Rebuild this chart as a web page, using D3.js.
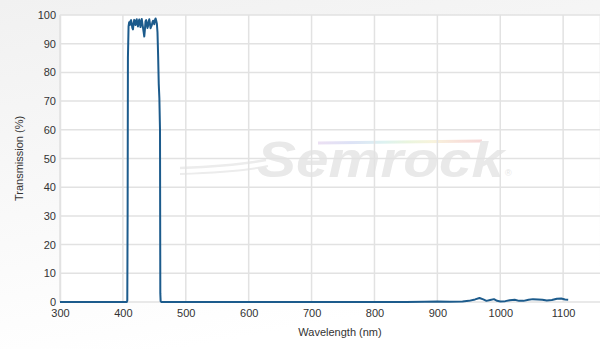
<!DOCTYPE html>
<html><head><meta charset="utf-8">
<script src="https://cdn.jsdelivr.net/npm/d3@7"></script>
<style>html,body{margin:0;padding:0;background:#fff;}svg{display:block;font-family:"Liberation Sans",Arial,sans-serif;}</style>
</head><body>
<div id="chart"></div>
<script>
const xTicks = [300,400,500,600,700,800,900,1000,1100];
const yTicks = [0,10,20,30,40,50,60,70,80,90,100];
const xTitle = "Wavelength (nm)";
const yTitle = "Transmission (%)";
const watermark = "Semrock";

// Spectrum: wavelength (nm) and transmission (%)
const wavelengths = [300,350,400,405,406,407,407.5,408,409,410,411,412,413,414,415,416,417,418,419,420,421,422,423,424,425,426,427,428,429,430,431,432,433,434,435,436,437,438,439,440,441,442,443,444,445,446,447,448,449,450,451,452,453,454,455,456,457,458,459,459.5,460,461,470,500,600,700,800,850,880,900,920,940,950,960,967,973,978,984,990,995,1000,1008,1015,1023,1030,1037,1045,1052,1060,1067,1074,1082,1090,1097,1103,1108];
const transmission = [0,0,0,0,0,0.5,30,85,96,97.5,96.5,97.8,98.2,97,95.5,95,97,98.3,97.5,96.5,97.8,98.5,97,96,97.5,98.4,97.2,95.8,97.5,98.6,97,95.5,94,92.5,95,97.8,98.2,96.8,95.5,96.2,97.8,98.5,97,95.4,96,96.5,97.5,98,97.2,96.8,98.2,98.8,98,97,94,86,76,71,60,3,0.3,0,0,0,0,0,0,0,0.05,0.15,0.1,0.2,0.4,0.9,1.4,0.9,0.4,0.7,1.0,0.4,0.2,0.3,0.6,0.8,0.4,0.4,0.8,1.0,0.9,0.8,0.5,0.7,1.1,1.2,0.9,0.8];

const W = 600, H = 349;
const m = {left:60, right:1, top:15, bottom:46};
const svg = d3.select("#chart").append("svg").attr("width",W).attr("height",H);
const defs = svg.append("defs");
const bg = defs.append("linearGradient").attr("id","bg").attr("x1",0).attr("y1",0).attr("x2",0.3).attr("y2",1);
bg.append("stop").attr("offset","0%").attr("stop-color","#f1f1f1");
bg.append("stop").attr("offset","100%").attr("stop-color","#ffffff");
const rb = defs.append("linearGradient").attr("id","rainbow").attr("x1",0).attr("y1",0).attr("x2",1).attr("y2",0);
[["0%","#ece0f3"],["20%","#dde2f6"],["40%","#ddf2f1"],["55%","#eaf5de"],["70%","#f8f3dc"],["85%","#f8e2da"],["100%","#f6d8d8"]]
  .forEach(([o,c])=>rb.append("stop").attr("offset",o).attr("stop-color",c));

svg.append("rect").attr("width",W).attr("height",H).attr("fill","url(#bg)");

const x = d3.scaleLinear().domain([300,1157]).range([m.left, W-m.right]);
const y = d3.scaleLinear().domain([0,100]).range([H-m.bottom-1, m.top]);

svg.append("rect").attr("x",m.left).attr("y",m.top).attr("width",W-m.right-m.left).attr("height",y(0)-m.top).attr("fill","#fff");

// watermark
const wm = svg.append("g").attr("class","watermark");
wm.append("path").attr("d","M 318 143 L 482 141").attr("stroke","url(#rainbow)").attr("stroke-width",3).attr("fill","none");
wm.append("path").attr("d","M 180 168 C 205 167, 240 165, 266 160").attr("stroke","#ececec").attr("stroke-width",2.5).attr("fill","none");
wm.append("path").attr("d","M 180 174 C 210 173, 245 171, 268 166").attr("stroke","#ececec").attr("stroke-width",2).attr("fill","none");
wm.append("text").attr("x",257).attr("y",177).attr("font-size",50).attr("font-weight","bold").attr("font-style","italic")
  .attr("font-family","'Liberation Sans',Arial,sans-serif").attr("fill","#e9e9e9")
  .attr("textLength",247).attr("lengthAdjust","spacingAndGlyphs").text(watermark);
wm.append("text").attr("x",505).attr("y",176).attr("font-size",9).attr("fill","#e6e6e6").text("®");

// grid
svg.append("g").selectAll("line").data(yTicks).join("line")
  .attr("x1",m.left).attr("x2",W).attr("y1",d=>y(d)).attr("y2",d=>y(d))
  .attr("stroke","#e2e2e2").attr("stroke-width",1.5);
svg.append("g").selectAll("line").data(xTicks).join("line")
  .attr("x1",d=>x(d)).attr("x2",d=>x(d)).attr("y1",m.top).attr("y2",y(0))
  .attr("stroke","#e2e2e2").attr("stroke-width",1.5);

// axes
const xa = svg.append("g").attr("transform",`translate(0,${y(0)})`)
  .call(d3.axisBottom(x).tickValues(xTicks).tickSize(0).tickPadding(7).tickFormat(d3.format("d")));
xa.select(".domain").remove();
xa.selectAll("text").attr("font-size",11).attr("fill","#333").attr("font-family","'Liberation Sans',Arial,sans-serif");
const ya = svg.append("g").attr("transform",`translate(${m.left},0)`)
  .call(d3.axisLeft(y).tickValues(yTicks).tickSize(0).tickPadding(4));
ya.select(".domain").attr("stroke","#e2e2e2").attr("stroke-width",1.5);
ya.selectAll("text").attr("font-size",11).attr("fill","#333").attr("font-family","'Liberation Sans',Arial,sans-serif");

svg.append("text").attr("x",340).attr("y",336).attr("text-anchor","middle").attr("font-size",11).attr("fill","#333").text(xTitle);
svg.append("text").attr("transform",`translate(23,${(m.top+y(0))/2}) rotate(-90)`).attr("text-anchor","middle")
  .attr("font-size",11).attr("fill","#333").text(yTitle);

// series
const data = wavelengths.map((w,i)=>({w, t: transmission[i]}));
svg.append("path").datum(data)
  .attr("fill","none").attr("stroke","#1c5b8c").attr("stroke-width",2).attr("stroke-linejoin","round")
  .attr("d", d3.line().x(d=>x(d.w)).y(d=>y(d.t)));
</script>
</body></html>
